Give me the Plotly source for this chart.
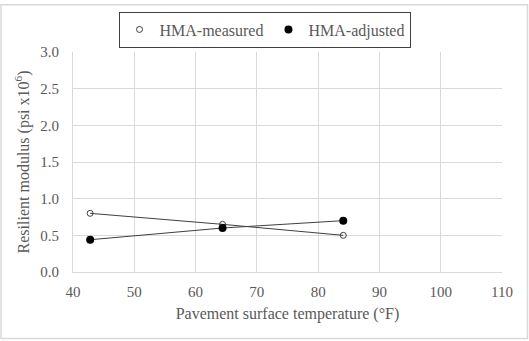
import plotly.graph_objects as go

temps = [42.8, 64.4, 84.1]
measured = [0.80, 0.65, 0.50]
adjusted = [0.44, 0.60, 0.70]
x_ticks = [40, 50, 60, 70, 80, 90, 100, 110]
y_ticks = [0.0, 0.5, 1.0, 1.5, 2.0, 2.5, 3.0]

W, H = 529, 341
ml, mr, mt, mb = 73, 27, 49, 69
font = "Liberation Serif, Times New Roman, serif"
grey = "#595959"
pw, ph = W - ml - mr, H - mt - mb

fig = go.Figure()
fig.add_trace(go.Scatter(
    x=temps, y=measured, name="HMA-measured", mode="lines+markers", showlegend=False,
    line=dict(color="#404040", width=1),
    marker=dict(symbol="circle-open", size=6, color="#404040", line=dict(width=1))))
fig.add_trace(go.Scatter(
    x=temps, y=adjusted, name="HMA-adjusted", mode="lines+markers", showlegend=False,
    line=dict(color="#404040", width=1),
    marker=dict(symbol="circle", size=8, color="black")))
# legend entries (markers only, as in the reference)
fig.add_trace(go.Scatter(
    x=[None], y=[None], name="HMA-measured", mode="markers",
    marker=dict(symbol="circle-open", size=6, color="#404040", line=dict(width=1))))
fig.add_trace(go.Scatter(
    x=[None], y=[None], name="HMA-adjusted", mode="markers",
    marker=dict(symbol="circle", size=8, color="black")))

fig.add_shape(type="rect", xref="paper", yref="paper",
              x0=-(ml - 1) / pw, x1=1 + (mr - 1.5) / pw,
              y0=-(mb - 1.5) / ph, y1=1 + (mt - 1) / ph,
              line=dict(color="#d9d9d9", width=1.5), layer="below")

fig.update_layout(
    width=W, height=H,
    margin=dict(l=ml, r=mr, t=mt, b=mb),
    paper_bgcolor="white", plot_bgcolor="white",
    font=dict(family=font, size=15, color=grey),
    showlegend=True,
    legend=dict(orientation="h", x=(W / 2 - ml) / pw, xanchor="center",
                y=1 + (mt - 8) / ph, yanchor="top",
                bordercolor="#404040", borderwidth=1, font=dict(size=16, color=grey),
                itemwidth=30, tracegroupgap=0),
    xaxis=dict(range=[40, 110], tickvals=x_ticks, ticktext=[str(v) for v in x_ticks],
               showgrid=True, gridcolor="#d9d9d9", gridwidth=1,
               showline=True, linecolor="#d9d9d9", mirror=False, zeroline=False,
               ticks="", ticklabelstandoff=6, tickfont=dict(size=15, color=grey),
               title=dict(text="Pavement surface temperature (°F)", font=dict(size=16, color=grey), standoff=8)),
    yaxis=dict(range=[0, 3.0], tickvals=y_ticks, ticktext=[f"{v:.1f}" for v in y_ticks],
               showgrid=True, gridcolor="#d9d9d9", gridwidth=1,
               showline=True, linecolor="#d9d9d9", zeroline=False,
               ticks="", ticklabelstandoff=10, tickfont=dict(size=15, color=grey),
               title=dict(text="Resilient modulus (psi x10<sup>6</sup>)", font=dict(size=16, color=grey), standoff=6)),
)
fig.write_html("out.html")
